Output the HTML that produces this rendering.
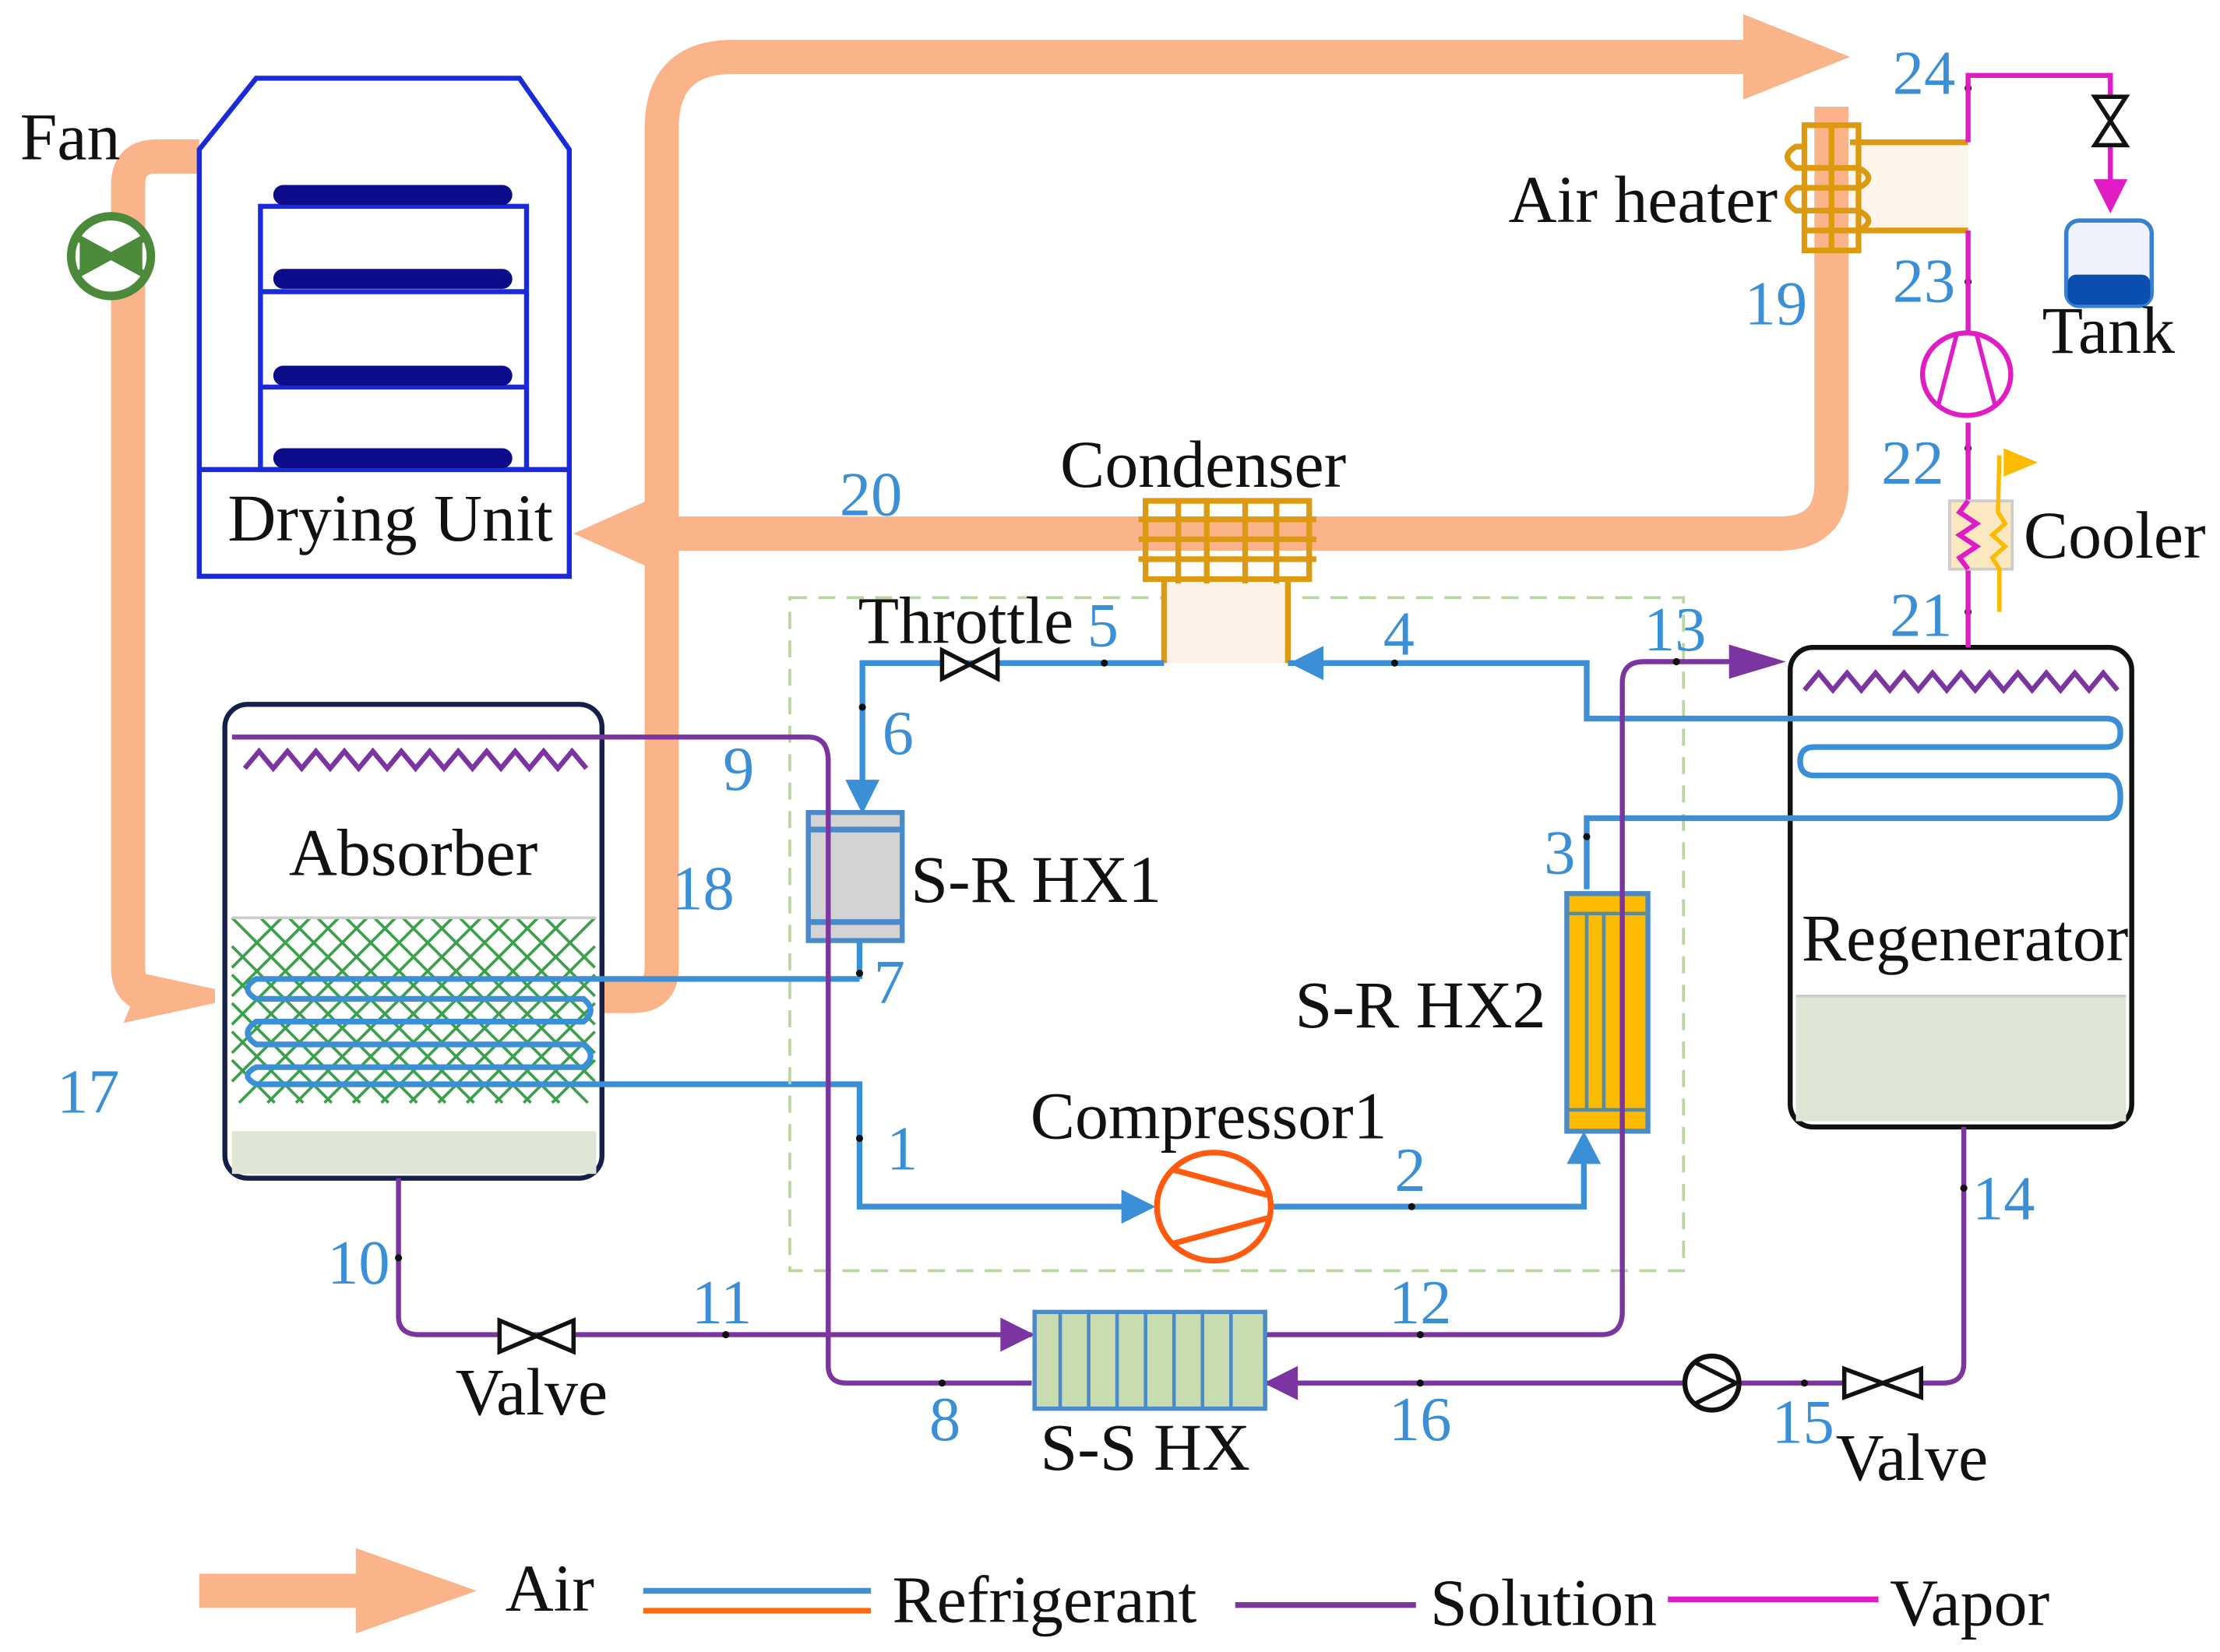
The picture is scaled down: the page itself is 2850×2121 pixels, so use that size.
<!DOCTYPE html>
<html><head><meta charset="utf-8"><style>
html,body{margin:0;padding:0;background:#fff;}
svg{display:block;}
.t{font-family:"Liberation Serif",serif;font-size:47px;fill:#111;}
.n{font-family:"Liberation Serif",serif;font-size:44px;fill:#3a8fd6;}
.ref{stroke:#3a8fd6;stroke-width:4;fill:none;}
.sol{stroke:#7a35a0;stroke-width:3.5;fill:none;}
.vap{stroke:#e01cc4;stroke-width:3.5;fill:none;}
.air{stroke:#fbb48a;stroke-width:24;fill:none;stroke-linejoin:round;}
</style></head><body>
<svg width="2850" height="2121" viewBox="0 0 1560 1161" xmlns="http://www.w3.org/2000/svg">
<!-- AIR loops -->
<path class="air" d="M140,110 L110,110 Q90,110 90,130 L90,680 Q90,700 110,700 L120,700"/>
<polygon points="95,688 150,700 95,712 100,700" fill="#fbb48a" stroke="#fbb48a" stroke-width="10"/>
<path class="air" d="M423,700 L445,700 Q465,700 465,680 L465,90 Q465,40 515,40 L1240,40"/>
<polygon points="1225,10 1300,40 1225,70" fill="#fbb48a"/>
<path class="air" d="M1287,75 L1287,340 Q1287,375 1250,375 L460,375"/>
<polygon points="470,345 403,375 470,405" fill="#fbb48a"/>
<!-- Fan -->
<circle cx="78" cy="180" r="28" fill="#fff" stroke="#4a8a3a" stroke-width="6"/>
<path d="M56,168 L100,192 M56,192 L100,168" stroke="#4a8a3a" stroke-width="5"/>
<path d="M56,168 L56,192 L78,180Z M100,168 L100,192 L78,180Z" fill="#4a8a3a"/>
<text class="t" x="14" y="112">Fan</text>
<!-- Drying unit -->
<polygon points="140,105 180,55 365,55 400,105 400,405 140,405" fill="#fff" stroke="#1a2ad8" stroke-width="3.5"/>
<rect x="183" y="145" width="187" height="185" fill="none" stroke="#1a2ad8" stroke-width="3.5"/>
<line x1="183" y1="205" x2="370" y2="205" stroke="#1a2ad8" stroke-width="3.5"/>
<line x1="183" y1="272" x2="370" y2="272" stroke="#1a2ad8" stroke-width="3.5"/>
<line x1="140" y1="330" x2="400" y2="330" stroke="#1a2ad8" stroke-width="3.5"/>
<g fill="#0c0c8a">
<rect x="192" y="130" width="168" height="14" rx="7"/>
<rect x="192" y="189" width="168" height="14" rx="7"/>
<rect x="192" y="257" width="168" height="14" rx="7"/>
<rect x="192" y="315" width="168" height="14" rx="7"/>
</g>
<text class="t" x="160" y="380">Drying Unit</text>
<!-- Absorber -->
<rect x="158" y="495" width="265" height="333" rx="16" fill="#fff" stroke="#15204a" stroke-width="3.5"/>
<rect x="163" y="645" width="256" height="130" fill="#fff"/>
<g stroke="#3aa04a" stroke-width="2" fill="none">
<path d="M163,645 l130,130 M183,645 l130,130 M203,645 l130,130 M223,645 l130,130 M243,645 l130,130 M263,645 l130,130 M283,645 l130,130 M303,645 l115,115 M323,645 l95,95 M343,645 l75,75 M363,645 l55,55 M383,645 l35,35 M163,665 l110,110 M163,685 l90,90 M163,705 l70,70 M163,725 l50,50 M163,745 l30,30"/>
<path d="M418,645 l-130,130 M398,645 l-130,130 M378,645 l-130,130 M358,645 l-130,130 M338,645 l-130,130 M318,645 l-130,130 M298,645 l-130,130 M278,645 l-115,115 M258,645 l-95,95 M238,645 l-75,75 M218,645 l-55,55 M198,645 l-35,35 M418,665 l-110,110 M418,685 l-90,90 M418,705 l-70,70 M418,725 l-50,50 M418,745 l-30,30"/>
</g>
<line x1="163" y1="645" x2="419" y2="645" stroke="#ccc" stroke-width="2"/>
<rect x="163" y="795" width="256" height="30" fill="#dfe5d5"/>
<path class="sol" d="M172,540 l10,-12 l10,12 l10,-12 l10,12 l10,-12 l10,12 l10,-12 l10,12 l10,-12 l10,12 l10,-12 l10,12 l10,-12 l10,12 l10,-12 l10,12 l10,-12 l10,12 l10,-12 l10,12 l10,-12 l10,12 l10,-12 l10,12"/>
<text class="t" x="203" y="615">Absorber</text>
<!-- absorber refrigerant coils -->
<path class="ref" d="M604,688 L180,688 Q168,695 180,702 L410,702 Q420,710 410,718 L180,718 Q168,726 180,734 L410,734 Q420,742 410,750 L180,750 Q168,756 180,762 L604,762 L604,848 L790,848"/>
<polygon points="788,836 812,848 788,860" fill="#3a8fd6"/>
<!-- Dashed box -->
<rect x="555" y="420" width="628" height="473" fill="none" stroke="#b9d5a0" stroke-width="2" stroke-dasharray="12,8"/>
<!-- Regenerator -->
<rect x="1258" y="455" width="240" height="337" rx="16" fill="#fff" stroke="#111" stroke-width="3.5"/>
<rect x="1262" y="700" width="232" height="88" fill="#dfe5d5"/>
<line x1="1262" y1="700" x2="1494" y2="700" stroke="#ccc" stroke-width="2"/>
<path class="sol" d="M1268,485 l10,-12 l10,12 l10,-12 l10,12 l10,-12 l10,12 l10,-12 l10,12 l10,-12 l10,12 l10,-12 l10,12 l10,-12 l10,12 l10,-12 l10,12 l10,-12 l10,12 l10,-12 l10,12 l10,-12 l10,12"/>
<text class="t" x="1266" y="675">Regenerator</text>
<!-- Condenser -->
<rect x="818" y="410" width="87" height="56" fill="#fdf0e6"/>
<path d="M818,466 L818,405 M905,466 L905,405" stroke="#dd9a10" stroke-width="4"/>
<g stroke="#dd9a10" stroke-width="4" fill="none">
<rect x="805" y="352" width="115" height="55"/>
<line x1="800" y1="365" x2="925" y2="365"/><line x1="800" y1="379" x2="925" y2="379"/><line x1="800" y1="393" x2="925" y2="393"/>
<line x1="828" y1="350" x2="828" y2="410"/><line x1="848" y1="350" x2="848" y2="410"/><line x1="875" y1="350" x2="875" y2="410"/><line x1="897" y1="350" x2="897" y2="410"/>
</g>
<text class="t" x="745" y="342">Condenser</text>
<!-- refrigerant loop top -->
<path class="ref" d="M818,466 L606,466 L606,555"/>
<polygon points="594,548 606,572 618,548" fill="#3a8fd6"/>
<path class="ref" d="M905,466 L1115,466 L1115,505 L1480,505 Q1490,505 1490,515 Q1490,525 1480,525 L1275,525 Q1265,525 1265,535 Q1265,545 1275,545 L1480,545 Q1490,545 1490,560 Q1490,575 1480,575 L1115,575 L1115,625"/>
<polygon points="930,454 906,466 930,478" fill="#3a8fd6"/>
<path class="ref" d="M895,848 L1113,848 L1113,805"/>
<polygon points="1101,818 1113,795 1125,818" fill="#3a8fd6"/>
<!-- throttle -->
<path d="M662,457 L662,477 L701,457 L701,477Z" fill="#fff" stroke="#111" stroke-width="3"/>
<text class="t" x="603" y="452">Throttle</text>
<!-- SR HX1 -->
<rect x="568" y="571" width="66" height="90" fill="#d3d3d3" stroke="#4a8ac8" stroke-width="3.5"/>
<line x1="568" y1="583" x2="634" y2="583" stroke="#4a8ac8" stroke-width="4"/>
<line x1="568" y1="648" x2="634" y2="648" stroke="#4a8ac8" stroke-width="4"/>
<line x1="604" y1="661" x2="604" y2="688" class="ref"/>
<text class="t" x="640" y="634">S-R HX1</text>
<!-- SR HX2 -->
<rect x="1101" y="628" width="57" height="167" fill="#fcbb00" stroke="#4a8ac8" stroke-width="3.5"/>
<g stroke="#5a8aa0" stroke-width="2.5"><line x1="1101" y1="642" x2="1158" y2="642"/><line x1="1101" y1="780" x2="1158" y2="780"/><line x1="1115" y1="642" x2="1115" y2="780"/><line x1="1127" y1="642" x2="1127" y2="780"/><line x1="1140" y1="642" x2="1140" y2="780"/></g>
<text class="t" x="910" y="722">S-R HX2</text>
<!-- Compressor1 -->
<ellipse cx="853" cy="848" rx="40" ry="38" fill="#fff" stroke="#ff5a10" stroke-width="4"/>
<path d="M824,822 L891,840 M824,874 L891,856" stroke="#ff5a10" stroke-width="4"/>
<text class="t" x="724" y="800">Compressor1</text>
<!-- solution lines -->
<path class="sol" d="M163,518 L568,518 Q582,518 582,535 L582,960 Q582,972 595,972 L725,972"/>
<path class="sol" d="M280,828 L280,925 Q280,938 295,938 L725,938"/>
<polygon points="703,926 727,938 703,950" fill="#7a35a0"/>
<path class="sol" d="M888,938 L1125,938 Q1140,938 1140,922 L1140,480 Q1140,465 1155,465 L1230,465"/>
<polygon points="1215,453 1255,465 1215,477" fill="#7a35a0"/>
<path class="sol" d="M1380,792 L1380,958 Q1380,972 1365,972 L890,972"/>
<polygon points="912,960 888,972 912,984" fill="#7a35a0"/>
<path d="M1296,962 L1296,982 L1350,962 L1350,982Z" fill="#fff" stroke="#111" stroke-width="3"/>
<circle cx="1203" cy="972" r="19" fill="#fff" stroke="#111" stroke-width="3.5"/>
<path d="M1192,958 L1220,972 L1192,986" fill="none" stroke="#111" stroke-width="3"/>
<path d="M351,928 L351,950 L403,928 L403,950Z" fill="#fff" stroke="#111" stroke-width="3"/>
<!-- S-S HX -->
<rect x="727" y="922" width="162" height="68" fill="#c9dcb0" stroke="#4a8ac8" stroke-width="3"/>
<g stroke="#4a8ac8" stroke-width="2.5"><line x1="745" y1="922" x2="745" y2="990"/><line x1="765" y1="922" x2="765" y2="990"/><line x1="785" y1="922" x2="785" y2="990"/><line x1="805" y1="922" x2="805" y2="990"/><line x1="825" y1="922" x2="825" y2="990"/><line x1="845" y1="922" x2="845" y2="990"/><line x1="865" y1="922" x2="865" y2="990"/></g>
<text class="t" x="731" y="1033">S-S HX</text>
<text class="t" x="320" y="994">Valve</text>
<text class="t" x="1290" y="1040">Valve</text>
<!-- dots -->
<g fill="#111">
<circle cx="776" cy="466" r="2.5"/><circle cx="980" cy="466" r="2.5"/><circle cx="606" cy="497" r="2.5"/>
<circle cx="604" cy="684" r="2.5"/><circle cx="604" cy="800" r="2.5"/><circle cx="992" cy="848" r="2.5"/>
<circle cx="1115" cy="588" r="2.5"/><circle cx="1178" cy="465" r="2.5"/><circle cx="280" cy="884" r="2.5"/>
<circle cx="510" cy="938" r="2.5"/><circle cx="998" cy="938" r="2.5"/><circle cx="998" cy="972" r="2.5"/>
<circle cx="662" cy="972" r="2.5"/><circle cx="1268" cy="972" r="2.5"/><circle cx="1380" cy="835" r="2.5"/>
<circle cx="1383" cy="62" r="2.5"/><circle cx="1383" cy="198" r="2.5"/><circle cx="1383" cy="315" r="2.5"/><circle cx="1383" cy="430" r="2.5"/>
</g>
<!-- Air heater & vapor -->
<rect x="1300" y="100" width="83" height="62" fill="#fdf5ea"/>
<path d="M1300,100 L1383,100 M1300,162 L1383,162" stroke="#dd9a10" stroke-width="4"/>
<g stroke="#dd9a10" stroke-width="4" fill="none">
<rect x="1268" y="88" width="38" height="88"/><line x1="1287" y1="88" x2="1287" y2="176"/>
<path d="M1268,103 L1262,103 Q1250,110 1262,118 L1306,118 Q1320,125 1306,132 L1262,132 Q1250,140 1262,148 L1306,148 Q1320,155 1306,162 L1268,162"/>
</g>
<text class="t" x="1060" y="156">Air heater</text>
<path class="vap" d="M1383,100 L1383,53 L1483,53 L1483,130 M1383,162 L1383,240 M1383,297 L1383,360 M1383,400 L1383,455"/>
<polygon points="1471,126 1495,126 1483,150" fill="#e01cc4"/>
<path d="M1472,68 L1494,68 L1472,102 L1494,102Z" fill="#fff" stroke="#111" stroke-width="3"/>
<rect x="1452" y="155" width="60" height="60" rx="9" fill="#eef2fa" stroke="#3a80d0" stroke-width="3"/>
<rect x="1453" y="193" width="58" height="21" rx="6" fill="#0a4fb0"/>
<text class="t" x="1435" y="248">Tank</text>
<ellipse cx="1382" cy="263" rx="31" ry="29" fill="#fff" stroke="#e01cc4" stroke-width="3.5"/>
<path d="M1375,235 L1362,285 M1389,235 L1402,285" stroke="#e01cc4" stroke-width="3"/>
<rect x="1370" y="352" width="44" height="48" fill="#fbe8c0" stroke="#ccc" stroke-width="2"/>
<path class="vap" d="M1383,352 l-6,8 l12,8 l-12,8 l12,8 l-12,8 l6,8"/>
<path d="M1405,430 L1405,400 l-5,-8 l9,-8 l-9,-8 l9,-8 l-5,-8 L1405,320" stroke="#fcbb00" stroke-width="3" fill="none"/>
<polygon points="1408,315 1432,325 1408,335" fill="#fcbb00"/>
<text class="t" x="1422" y="392">Cooler</text>
<!-- state numbers -->
<text class="n" x="40" y="782">17</text>
<text class="n" x="472" y="639">18</text>
<text class="n" x="1226" y="228">19</text>
<text class="n" x="590" y="362">20</text>
<text class="n" x="1328" y="447">21</text>
<text class="n" x="1322" y="340">22</text>
<text class="n" x="1330" y="212">23</text>
<text class="n" x="1330" y="66">24</text>
<text class="n" x="508" y="555">9</text>
<text class="n" x="230" y="902">10</text>
<text class="n" x="486" y="930">11</text>
<text class="n" x="976" y="930">12</text>
<text class="n" x="1155" y="457">13</text>
<text class="n" x="1386" y="857">14</text>
<text class="n" x="1245" y="1014">15</text>
<text class="n" x="976" y="1012">16</text>
<text class="n" x="653" y="1012">8</text>
<text class="n" x="620" y="530">6</text>
<text class="n" x="614" y="705">7</text>
<text class="n" x="623" y="822">1</text>
<text class="n" x="980" y="837">2</text>
<text class="n" x="1085" y="614">3</text>
<text class="n" x="972" y="460">4</text>
<text class="n" x="764" y="454">5</text>
<!-- legend -->
<path d="M140,1106 L250,1106 L250,1088 L335,1118 L250,1148 L250,1130 L140,1130Z" fill="#fbb48a"/>
<text class="t" x="355" y="1132">Air</text>
<line x1="452" y1="1118" x2="612" y2="1118" stroke="#3a8fd6" stroke-width="4"/>
<line x1="452" y1="1132" x2="612" y2="1132" stroke="#ff6a10" stroke-width="4"/>
<text class="t" x="627" y="1140">Refrigerant</text>
<line x1="868" y1="1128" x2="995" y2="1128" stroke="#7a35a0" stroke-width="4"/>
<text class="t" x="1005" y="1142">Solution</text>
<line x1="1172" y1="1124" x2="1320" y2="1124" stroke="#e01cc4" stroke-width="4"/>
<text class="t" x="1328" y="1142">Vapor</text>
</svg>
</body></html>
